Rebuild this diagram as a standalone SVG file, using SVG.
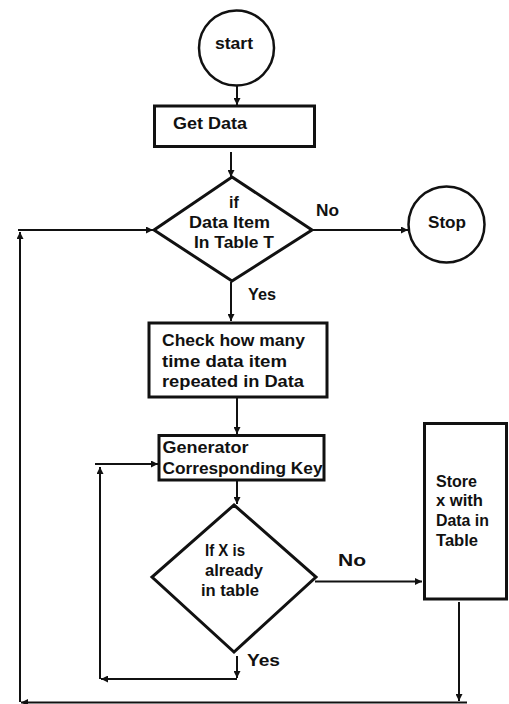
<svg xmlns="http://www.w3.org/2000/svg" width="509" height="704" viewBox="0 0 509 704">
<style>
.t{font-family:"Liberation Sans",Arial,sans-serif;font-weight:bold;font-size:16px;fill:#111}
.shape{fill:#fff;stroke:#111;stroke-width:3}
.circ{fill:#fff;stroke:#111;stroke-width:2.5}
.c{fill:none;stroke:#111;stroke-width:2}
</style>
<defs>
<marker id="ah" viewBox="0 0 10 10" refX="10" refY="5" markerWidth="8" markerHeight="7" markerUnits="userSpaceOnUse" orient="auto"><path d="M0,0 L10,5 L0,10 z" fill="#111"/></marker>
</defs>
<rect width="509" height="704" fill="#fff"/>
<g id="connectors">
<path class="c" d="M237,86 L237,105" marker-end="url(#ah)"/>
<path class="c" d="M231,152 L231,177" marker-end="url(#ah)"/>
<path class="c" d="M312,230 L408,230" marker-end="url(#ah)"/>
<path class="c" d="M20,702 L20,232" marker-end="url(#ah)"/>
<path class="c" d="M18,230 L153,230" marker-end="url(#ah)"/>
<path class="c" d="M231,282 L231,321" marker-end="url(#ah)"/>
<path class="c" d="M237,397 L237,434" marker-end="url(#ah)"/>
<path class="c" d="M95,464 L158,464" marker-end="url(#ah)"/>
<path class="c" d="M100,679 L100,467" marker-end="url(#ah)"/>
<path class="c" d="M237,480 L237,504" marker-end="url(#ah)"/>
<path class="c" d="M237,656 L237,678" marker-end="url(#ah)"/>
<path class="c" d="M237,679 L101,679" marker-end="url(#ah)"/>
<path class="c" d="M315,581.5 L422,581.5" marker-end="url(#ah)"/>
<path class="c" d="M459,602 L459,701" marker-end="url(#ah)"/>
<path class="c" d="M467,702.5 L21,702.5" marker-end="url(#ah)"/>
<text class="t" x="316" y="216" textLength="23" lengthAdjust="spacingAndGlyphs">No</text>
<text class="t" x="248" y="300" textLength="28" lengthAdjust="spacingAndGlyphs">Yes</text>
<text class="t" x="338" y="566" font-size="18" textLength="28" lengthAdjust="spacingAndGlyphs">No</text>
<text class="t" x="247" y="666" font-size="17" textLength="33" lengthAdjust="spacingAndGlyphs">Yes</text>
</g>
<g id="start">
<circle class="circ" cx="236.5" cy="48" r="37.5"/>
<text class="t" x="215" y="49" textLength="38" lengthAdjust="spacingAndGlyphs">start</text>
</g>
<g id="get-data">
<rect class="shape" x="154.5" y="106" width="160" height="40.5"/>
<text class="t" x="173" y="129" textLength="74" lengthAdjust="spacingAndGlyphs">Get Data</text>
</g>
<g id="decision-table">
<polygon class="shape" points="232,177 312,230 232,281 154,230"/>
<text class="t" x="234" y="207.5" text-anchor="middle">if</text>
<text class="t" x="189" y="227.5" textLength="81" lengthAdjust="spacingAndGlyphs">Data Item</text>
<text class="t" x="194" y="247.5" textLength="80" lengthAdjust="spacingAndGlyphs">In Table T</text>
</g>
<g id="stop">
<circle class="circ" cx="446.5" cy="224.5" r="38"/>
<text class="t" x="428" y="228" textLength="38" lengthAdjust="spacingAndGlyphs">Stop</text>
</g>
<g id="check">
<rect class="shape" x="149" y="323" width="178" height="74"/>
<text class="t" x="162" y="346" textLength="143" lengthAdjust="spacingAndGlyphs">Check how many</text>
<text class="t" x="162" y="366.5" textLength="125" lengthAdjust="spacingAndGlyphs">time data item</text>
<text class="t" x="162" y="387" textLength="142" lengthAdjust="spacingAndGlyphs">repeated in Data</text>
</g>
<g id="generator">
<rect class="shape" x="159" y="435.5" width="165" height="44.5"/>
<text class="t" x="162.5" y="453" textLength="86" lengthAdjust="spacingAndGlyphs">Generator</text>
<text class="t" x="162.5" y="473.5" textLength="160" lengthAdjust="spacingAndGlyphs">Corresponding Key</text>
</g>
<g id="decision-x">
<polygon class="shape" points="234,505 316,577 234,652 152,577"/>
<text class="t" x="205" y="556" textLength="40" lengthAdjust="spacingAndGlyphs">If X is</text>
<text class="t" x="205" y="576" textLength="58" lengthAdjust="spacingAndGlyphs">already</text>
<text class="t" x="201" y="596" textLength="58" lengthAdjust="spacingAndGlyphs">in table</text>
</g>
<g id="store">
<rect class="shape" x="424.5" y="423.5" width="82" height="175.5"/>
<text class="t" x="436" y="487" textLength="41" lengthAdjust="spacingAndGlyphs">Store</text>
<text class="t" x="436" y="506" textLength="47" lengthAdjust="spacingAndGlyphs">x with</text>
<text class="t" x="436" y="526" textLength="53" lengthAdjust="spacingAndGlyphs">Data in</text>
<text class="t" x="436" y="545.5" textLength="42" lengthAdjust="spacingAndGlyphs">Table</text>
</g>
</svg>
